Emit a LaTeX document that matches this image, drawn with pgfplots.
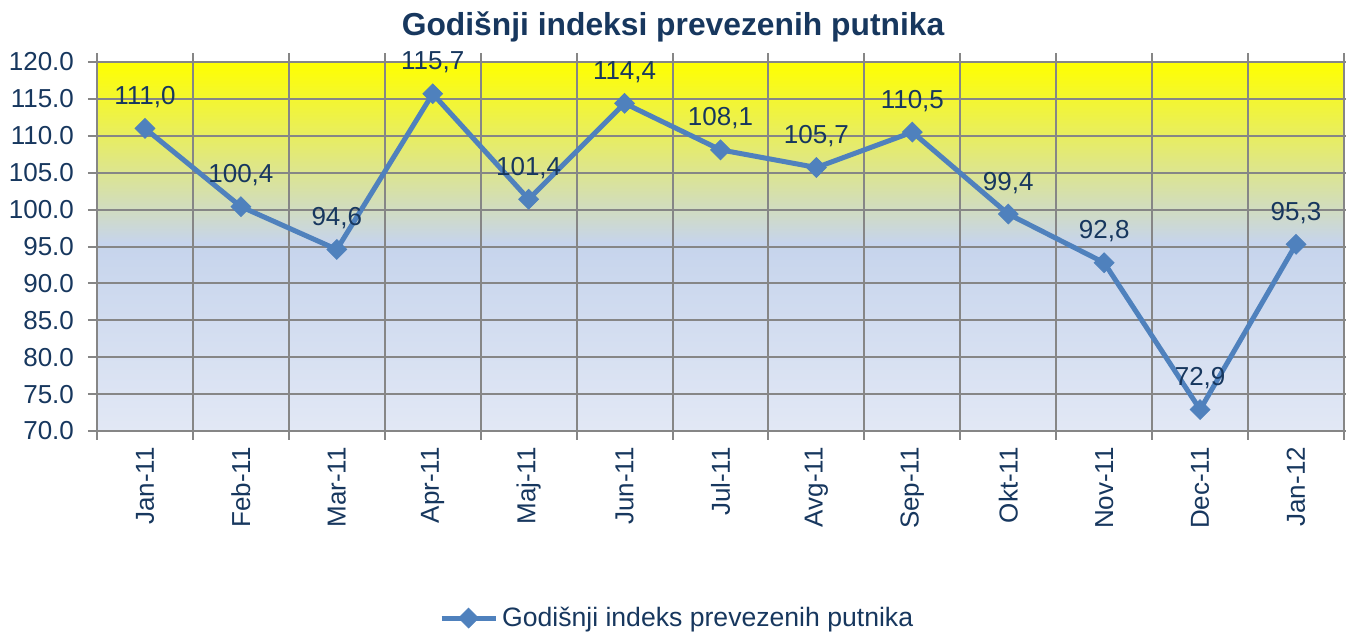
\documentclass[border=0pt]{standalone}
\usepackage{fontspec}
\setmainfont{Liberation Sans}
\usepackage{pgfplots}
\pgfplotsset{compat=1.18}
\definecolor{navy}{RGB}{23,55,94}
\definecolor{ln}{RGB}{79,129,189}
\definecolor{gr}{RGB}{134,134,134}
\definecolor{yel}{RGB}{255,255,0}
\definecolor{mid}{RGB}{198,212,236}
\definecolor{low}{RGB}{226,232,245}
\pgfplotstableread{
x y lab
0 111.0 111,0
1 100.4 100,4
2 94.6 94,6
3 115.7 115,7
4 101.4 101,4
5 114.4 114,4
6 108.1 108,1
7 105.7 105,7
8 110.5 110,5
9 99.4 99,4
10 92.8 92,8
11 72.9 72,9
12 95.3 95,3
}\datatable
\begin{document}
\begin{tikzpicture}
\node[font=\fontsize{15.9}{18}\selectfont\bfseries, text=navy] at (336.5pt,302.5pt) {Godišnji indeksi prevezenih putnika};
\begin{axis}[
 set layers,
 at={(48.5pt,100.5pt)}, anchor=south west,
 scale only axis, width=623.5pt, height=184.5pt,
 xmin=-0.5, xmax=12.5, ymin=70, ymax=120,
 xtick={0,...,12},
 xticklabels={Jan-11,Feb-11,Mar-11,Apr-11,Maj-11,Jun-11,Jul-11,Avg-11,Sep-11,Okt-11,Nov-11,Dec-11,Jan-12},
 minor xtick={-0.5,0.5,...,12.5},
 xminorgrids=true, ymajorgrids=true,
 ytick={70,75,...,120},
 tick align=outside,
 major tick length=4.5pt, minor tick length=4.5pt,
 major x tick style={draw=none},
 tick style={gr, line width=1pt},
 minor tick style={gr, line width=1pt},
 grid style={gr, line width=1pt},
 minor grid style={gr, line width=1pt},
 axis line style={gr, line width=1pt},
 /pgf/number format/assume math mode=true,
 yticklabel style={/pgf/number format/.cd, fixed, fixed zerofill, precision=1, /tikz/xshift=-3.5pt},
 ticklabel style={font=\fontsize{13}{15}\selectfont, text=navy},
 xticklabel style={rotate=90, anchor=east},
 legend style={at={(0.466,-0.507)}, anchor=center, draw=none, fill=none, font=\fontsize{13.3}{15}\selectfont, text=navy},
 legend image code/.code={\draw[mark repeat=2,mark phase=2,#1] plot coordinates {(0cm,0cm) (0.475cm,0cm) (0.95cm,0cm)};},
]
\addplot[draw=none, top color=yel, bottom color=mid, on layer=axis background, forget plot]
  coordinates {(-0.5,95.5) (12.5,95.5) (12.5,120) (-0.5,120)} -- cycle;
\addplot[draw=none, top color=mid, bottom color=low, on layer=axis background, forget plot]
  coordinates {(-0.5,70) (12.5,70) (12.5,95.5) (-0.5,95.5)} -- cycle;
\addplot[ln, line width=2.5pt, mark=square*, mark size=3.5pt,
  mark options={rotate=45, fill=ln, draw=ln, line width=0.4pt},
  nodes near coords, point meta=explicit symbolic,
  every node near coord/.append style={font=\fontsize{13}{15}\selectfont, text=navy, anchor=base, yshift=12pt}]
  table[x=x, y=y, meta=lab] {\datatable};
\addlegendentry{Godišnji indeks prevezenih putnika}
\end{axis}
\pgfresetboundingbox
\useasboundingbox (0,0) rectangle (673pt,316pt);
\end{tikzpicture}
\end{document}
